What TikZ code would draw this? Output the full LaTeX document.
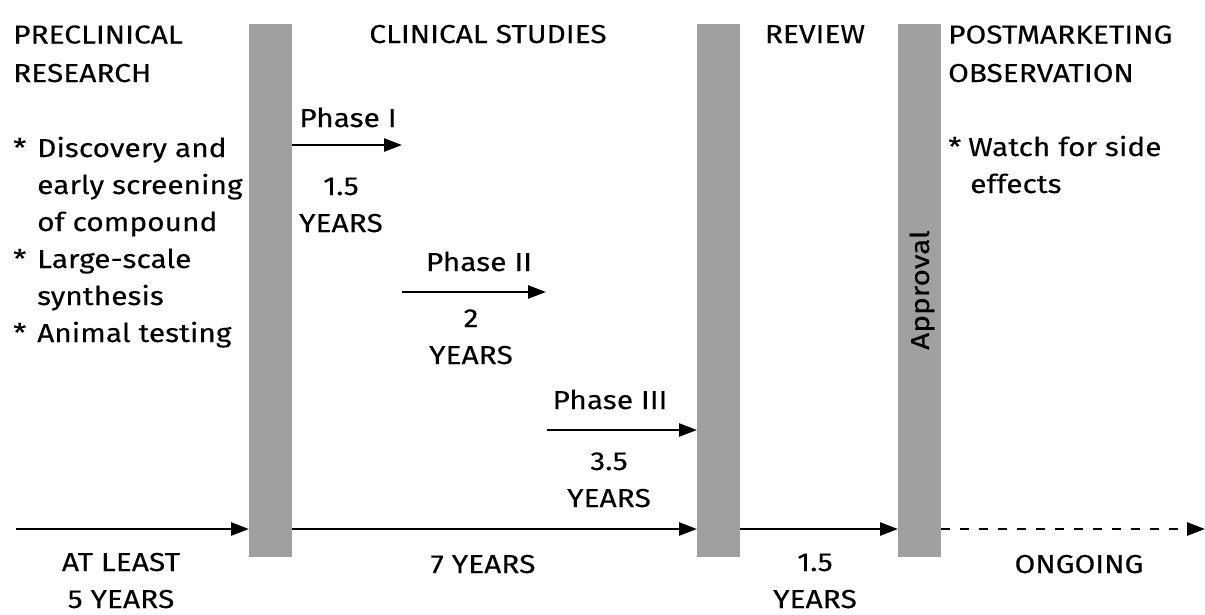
\documentclass[tikz,border=0pt]{standalone}
\usepackage{fontspec}
\setmainfont{Fira Sans}[FakeStretch=1.15,FakeBold=0.2]
\usetikzlibrary{arrows.meta}
\definecolor{barg}{HTML}{A0A0A0}
\begin{document}
\begin{tikzpicture}[x=1pt,y=-1pt,
  bar/.style={fill=barg, draw=none, inner sep=0pt, minimum width=43pt, minimum height=533pt, anchor=north west},
  txt/.style={inner sep=0pt, font=\fontsize{26}{37}\selectfont},
  lbl/.style={txt, anchor=base, align=center},
  lft/.style={txt, anchor=base west, align=left},
  conn/.style={line width=2.6pt, -{Triangle[length=18pt,width=13pt]}},
  dashconn/.style={conn, dash pattern=on 9pt off 10pt}]
\useasboundingbox (0,0) rectangle (1205,614);
% bars
\node[bar] (b1) at (249,24) {};
\node[bar] (b2) at (697,24) {};
\node[bar] (b3) at (898,24) {};
\node[txt, rotate=90, anchor=center] (appr) at (922,290) {Approval};
% main timeline
\coordinate (s) at (16,529);
\coordinate (e) at (1205,529);
\draw[conn] (s) -- (s -| b1.west);
\draw[conn] (b1.east |- s) -- (b2.west |- s);
\draw[conn] (b2.east |- s) -- (b3.west |- s);
\draw[dashconn] (b3.east |- s) -- (e);
% phases
\coordinate (p1s) at (292,145);
\coordinate (p1e) at (402,145);
\coordinate (p2s) at (402,292);
\coordinate (p2e) at (546,292);
\coordinate (p3s) at (547,430);
\draw[conn] (p1s -| b1.east) -- (p1e);
\draw[conn] (p2s) -- (p2e);
\draw[conn] (p3s) -- (p3s -| b2.west);
% headers (multi-line nodes anchored at the baseline of their last line)
\node[lft, font=\fontsize{26}{38.5}\selectfont] (pre) at (13,82) {PRECLINICAL\\RESEARCH};
\node[lft] (prel) at (13,342) {\makebox[24pt][l]{*}Discovery and\\\hspace*{24pt}early screening\\\hspace*{24pt}of compound\\\makebox[24pt][l]{*}Large-scale\\\hspace*{24pt}synthesis\\\makebox[24pt][l]{*}Animal testing};
\node[lbl] (clin) at (488,43) {CLINICAL STUDIES};
\node[lbl] (rev) at (815,43) {REVIEW};
\node[lft, font=\fontsize{26}{38.5}\selectfont] (post) at (948,82) {POSTMARKETING\\OBSERVATION};
\node[lft] (postl) at (948,193) {\makebox[20pt][l]{*}Watch for side\\\hspace*{22pt}effects};
% phase labels
\node[lbl] (ph1) at (348,127) {Phase I};
\node[lbl] (ph1y) at (341,232) {1.5\\YEARS};
\node[lbl] (ph2) at (479,271) {Phase II};
\node[lbl] (ph2y) at (471,364) {2\\YEARS};
\node[lbl] (ph3) at (610,409) {Phase III};
\node[lbl] (ph3y) at (609,507) {3.5\\YEARS};
% bottom labels
\node[lbl] (t1) at (121,608) {AT LEAST\\5 YEARS};
\node[lbl] (t2) at (483,573) {7 YEARS};
\node[lbl] (t3) at (815,608) {1.5\\YEARS};
\node[lbl] (t4) at (1079,573) {ONGOING};
\end{tikzpicture}
\end{document}
